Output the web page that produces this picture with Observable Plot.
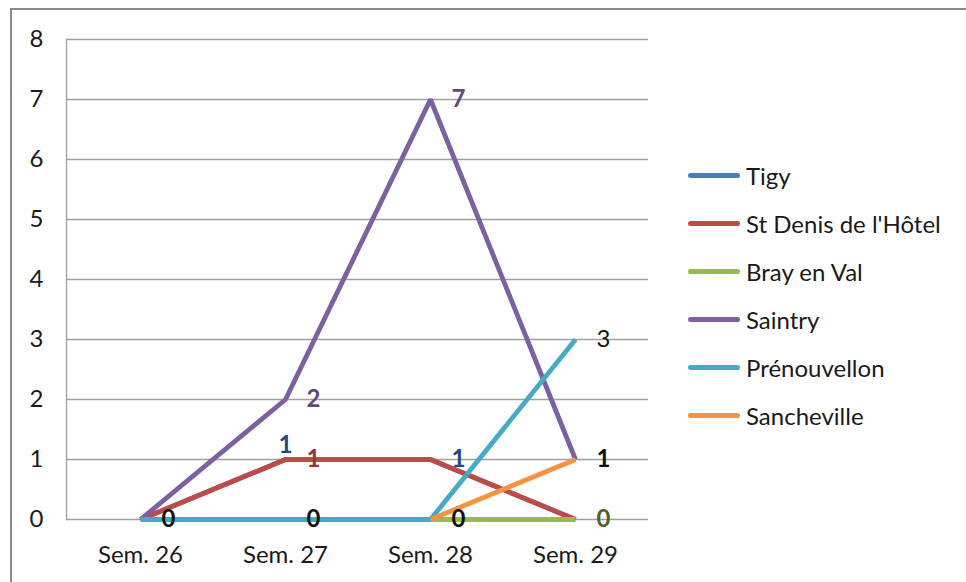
<!DOCTYPE html>
<html>
<head>
<meta charset="utf-8">
<script src="https://cdn.jsdelivr.net/npm/d3@7"></script>
<script src="https://cdn.jsdelivr.net/npm/@observablehq/plot@0.6"></script>
<style>
  html, body { margin: 0; padding: 0; background: #fff; }
  #wrap { position: relative; width: 966px; height: 582px; overflow: hidden; font-family: Lato, "Open Sans", sans-serif; }
  #border { position: absolute; left: 10px; top: 8px; width: 2000px; height: 2000px; border-left: 2px solid #8a8a8a; border-top: 2px solid #8a8a8a; box-sizing: border-box; }
  #legend { position: absolute; left: 688px; top: 0; }
  .row { position: absolute; left: 0; height: 30px; display: flex; align-items: center; white-space: nowrap; }
  .sw { width: 52px; height: 5px; border-radius: 3px; margin-right: 6px; }
  .lab { font-size: 24px; color: #1a1a1a; }
  svg { position: absolute; left: 0; top: 0; }
</style>
</head>
<body>
<div id="wrap"><div id="border"></div></div>
<script>
const weeks = ["Sem. 26", "Sem. 27", "Sem. 28", "Sem. 29"];
const series = ["Tigy", "St Denis de l'Hôtel", "Bray en Val", "Saintry", "Prénouvellon", "Sancheville"];
const tigy = [0, 1, 1, 0];
const stDenis = [0, 1, 1, 0];
const brayEnVal = [null, null, 0, 0];
const saintry = [0, 2, 7, 1];
const prenouvellon = [0, 0, 0, 3];
const sancheville = [null, null, 0, 1];
const lineColors = ["#4A7EBB", "#BE4B48", "#98B954", "#7D60A0", "#46AAC5", "#F69240"];
const labelColors = ["#1F497D", "#953735", "#4F6228", "#5F497A", "#141414", "#111111"];
const yTicks = [0, 1, 2, 3, 4, 5, 6, 7, 8];
// visible data labels: [series, week]
const visibleLabels = [
  ["Prénouvellon", "Sem. 26"], ["Prénouvellon", "Sem. 27"], ["Sancheville", "Sem. 28"],
  ["Bray en Val", "Sem. 29"], ["Sancheville", "Sem. 29"], ["Prénouvellon", "Sem. 29"],
  ["Saintry", "Sem. 27"], ["Saintry", "Sem. 28"],
  ["St Denis de l'Hôtel", "Sem. 27"], ["Tigy", "Sem. 27"], ["Tigy", "Sem. 28"]
];

const values = [tigy, stDenis, brayEnVal, saintry, prenouvellon, sancheville];
const data = [];
series.forEach((s, i) => weeks.forEach((w, j) => data.push({series: s, week: w, value: values[i][j]})));
const labels = visibleLabels.map(([s, w]) => data.find(d => d.series === s && d.week === w));
const labelColor = d => labelColors[series.indexOf(d.series)];
const above = labels.filter(d => d.series === "Tigy" && d.week === "Sem. 27");
const right = labels.filter(d => !above.includes(d));
const rightNormal = right.filter(d => d.series === "Prénouvellon" && d.week === "Sem. 29");
const rightBold = right.filter(d => !rightNormal.includes(d));

const chart = Plot.plot({
  width: 966,
  height: 582,
  marginLeft: 66,
  marginRight: 318,
  marginTop: 39,
  marginBottom: 63,
  style: {fontFamily: "Lato, 'Open Sans', sans-serif", fontSize: "24px", color: "#1a1a1a", background: "transparent"},
  x: {type: "point", domain: weeks, padding: 0.5, label: null},
  y: {domain: [0, 8], label: null},
  color: {domain: series, range: lineColors},
  marks: [
    Plot.gridY(yTicks, {stroke: "#a0a0a0", strokeOpacity: 1, strokeWidth: 1.3}),
    Plot.frame({anchor: "left", stroke: "#a0a0a0", strokeWidth: 1.3}),
    Plot.axisY(yTicks, {tickSize: 0, tickPadding: 23, fontSize: 24, fill: "#1a1a1a", label: null, tickFormat: d => String(d)}),
    Plot.axisX(weeks, {tickSize: 0, tickPadding: 26, fontSize: 24, fill: "#1a1a1a", label: null}),
    Plot.line(data, {x: "week", y: "value", z: "series", stroke: "series", strokeWidth: 4.8, strokeLinejoin: "miter", strokeLinecap: "butt"}),
    Plot.text(rightBold, {x: "week", y: "value", text: d => String(d.value), fill: labelColor, dx: 28, fontWeight: "bold", fontSize: 24}),
    Plot.text(rightNormal, {x: "week", y: "value", text: d => String(d.value), fill: labelColor, dx: 28, fontSize: 24}),
    Plot.text(above, {x: "week", y: "value", text: d => String(d.value), fill: labelColor, dy: -14, fontWeight: "bold", fontSize: 24})
  ]
});

const wrap = document.getElementById("wrap");
wrap.appendChild(chart);

const legend = document.createElement("div");
legend.id = "legend";
series.forEach((s, i) => {
  const row = document.createElement("div");
  row.className = "row";
  row.style.top = (160 + i * 48) + "px";
  const sw = document.createElement("div");
  sw.className = "sw";
  sw.style.background = lineColors[i];
  const t = document.createElement("span");
  t.className = "lab";
  t.textContent = s;
  row.appendChild(sw);
  row.appendChild(t);
  legend.appendChild(row);
});
wrap.appendChild(legend);
</script>
</body>
</html>
